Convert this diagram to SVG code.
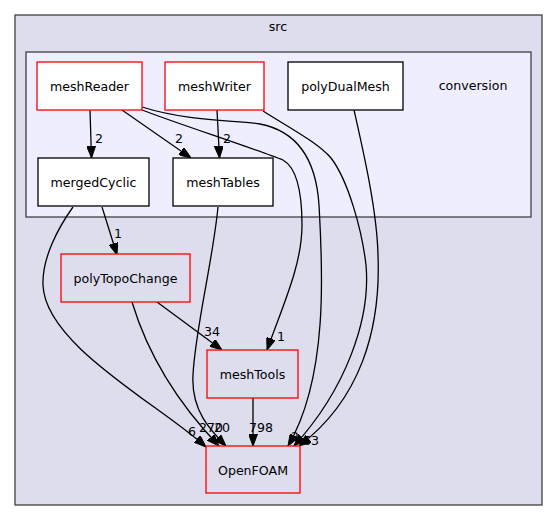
<svg xmlns="http://www.w3.org/2000/svg" width="557" height="521" viewBox="0 0 557 521">
<style>
text{font-family:"DejaVu Sans","Liberation Sans",sans-serif;font-size:12.6px;fill:#000;text-anchor:middle}
.cl{stroke:#404040;stroke-width:1.3}
.red{fill:#fff;stroke:#ff0000;stroke-width:1.3}
.blk{fill:#fff;stroke:#000;stroke-width:1.3}
.redo{fill:#ddddee;stroke:#ff0000;stroke-width:1.3}
.e{fill:none;stroke:#000;stroke-width:1.3;marker-end:url(#ah)}
</style>
<defs>
<marker id="ah" viewBox="0 0 12 9" refX="12" refY="4.5" markerWidth="12" markerHeight="9" markerUnits="userSpaceOnUse" orient="auto">
<path d="M0,0 L12,4.5 L0,9 z" fill="#000" stroke="#000"/>
</marker>
</defs>
<rect width="557" height="521" fill="#fff"/>
<g id="cluster_src">
<rect x="15" y="15" width="527" height="490" fill="#ddddee" class="cl"/>
<text x="278" y="31">src</text>
</g>
<g id="cluster_conversion">
<rect x="26" y="52" width="505" height="165" fill="#eeeeff" class="cl"/>
<text x="473" y="90">conversion</text>
</g>
<g id="edges">
<path class="e" d="M90,110 L91.5,158"/>
<text x="99" y="143">2</text>
<path class="e" d="M122,110 L191,158"/>
<text x="179" y="143">2</text>
<path class="e" d="M217,110 L219.5,158"/>
<text x="227" y="143">2</text>
<path class="e" d="M142,110 C170,121 258,150 283,160 C297,168 302,195 302,225 C302,265 283,305 267,350"/>
<text x="281" y="341">1</text>
<path class="e" d="M142,107 C190,122 237,120 260,124 C296,131 316,158 319,205 C322,260 330,375 288,446"/>
<path class="e" d="M263,111 C293,130 318,143 331,158 C348,180 362,230 366,265 C371,320 345,390 294,446"/>
<path class="e" d="M354,110 C363,150 377,210 378,255 C381,330 360,400 299,446"/>
<text x="295" y="441">2</text>
<text x="307" y="445">6</text>
<text x="315" y="445">3</text>
<path class="e" d="M102,207 L117,255"/>
<text x="118" y="238">1</text>
<path class="e" d="M73,207 C58,228 42,258 43,285 C45,345 160,405 206,447"/>
<text x="192" y="436">6</text>
<path class="e" d="M218,207 C213,260 195,330 193,375 C191,410 210,430 226,446"/>
<path class="e" d="M157,302 L222,350"/>
<text x="212" y="336">34</text>
<path class="e" d="M132,302 C145,345 170,395 219,446"/>
<text x="211" y="432">270</text>
<text x="222" y="432">20</text>
<path class="e" d="M253,398 L253,446"/>
<text x="261" y="432">798</text>
</g>
<g id="meshReader"><rect x="37" y="62" width="105" height="48" class="red"/><text x="89.5" y="90.5">meshReader</text></g>
<g id="meshWriter"><rect x="165" y="62" width="99" height="48" class="red"/><text x="214.5" y="90.5">meshWriter</text></g>
<g id="polyDualMesh"><rect x="288" y="62" width="115" height="48" class="blk"/><text x="345.5" y="90.5">polyDualMesh</text></g>
<g id="mergedCyclic"><rect x="38" y="158" width="111" height="48" class="blk"/><text x="93.5" y="186.5">mergedCyclic</text></g>
<g id="meshTables"><rect x="173" y="158" width="100" height="48" class="blk"/><text x="223" y="186.5">meshTables</text></g>
<g id="polyTopoChange"><rect x="61" y="254" width="129" height="48" class="redo"/><text x="125.5" y="282.5">polyTopoChange</text></g>
<g id="meshTools"><rect x="207" y="350" width="91" height="48" class="redo"/><text x="252.5" y="378.5">meshTools</text></g>
<g id="OpenFOAM"><rect x="206" y="446" width="94" height="47" class="redo"/><text x="253" y="474.5">OpenFOAM</text></g>
</svg>
